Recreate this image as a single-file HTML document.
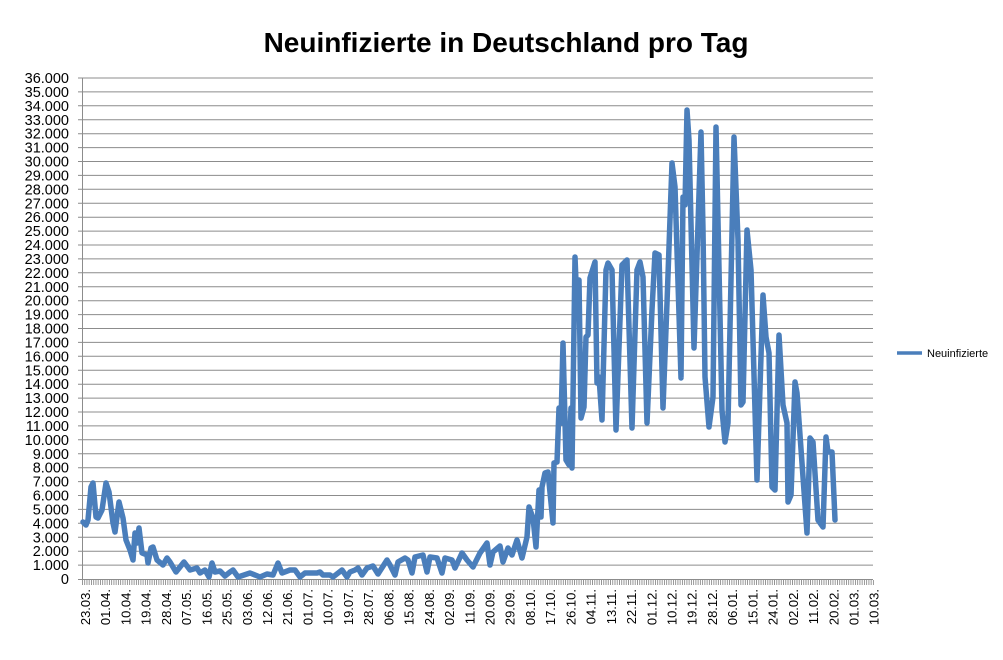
<!DOCTYPE html>
<html><head><meta charset="utf-8"><style>html,body{margin:0;padding:0;background:#fff}svg{display:block}</style></head><body>
<svg width="1003" height="660" xmlns="http://www.w3.org/2000/svg" font-family="Liberation Sans, sans-serif">
<defs><pattern id="tk" x="82" y="0" width="2.247" height="10" patternUnits="userSpaceOnUse"><rect x="0" y="0" width="0.9" height="10" fill="#8c8c8c"/></pattern></defs>
<rect width="1003" height="660" fill="#fff"/>
<text x="506" y="52" text-anchor="middle" font-size="28" font-weight="bold" fill="#000">Neuinfizierte in Deutschland pro Tag</text>
<path stroke="#8c8c8c" stroke-width="1" fill="none" d="M78 579.5H873M78 565.1H873M78 551.2H873M78 537.3H873M78 523.3H873M78 509.4H873M78 495.5H873M78 481.6H873M78 467.7H873M78 453.8H873M78 439.8H873M78 425.9H873M78 412H873M78 398.1H873M78 384.2H873M78 370.3H873M78 356.3H873M78 342.4H873M78 328.5H873M78 314.6H873M78 300.7H873M78 286.8H873M78 272.8H873M78 258.9H873M78 245H873M78 231.1H873M78 217.2H873M78 203.3H873M78 189.3H873M78 175.4H873M78 161.5H873M78 147.6H873M78 133.7H873M78 119.8H873M78 105.8H873M78 91.9H873M78 78H873M82.5 78V580"/>
<rect x="82" y="580" width="792" height="5" fill="url(#tk)"/>
<g font-size="14.5" fill="#000" text-anchor="end">
<text x="69" y="584">0</text><text x="69" y="570.1">1.000</text><text x="69" y="556.2">2.000</text><text x="69" y="542.3">3.000</text><text x="69" y="528.3">4.000</text><text x="69" y="514.4">5.000</text><text x="69" y="500.5">6.000</text><text x="69" y="486.6">7.000</text><text x="69" y="472.7">8.000</text><text x="69" y="458.8">9.000</text><text x="69" y="444.8">10.000</text><text x="69" y="430.9">11.000</text><text x="69" y="417">12.000</text><text x="69" y="403.1">13.000</text><text x="69" y="389.2">14.000</text><text x="69" y="375.3">15.000</text><text x="69" y="361.3">16.000</text><text x="69" y="347.4">17.000</text><text x="69" y="333.5">18.000</text><text x="69" y="319.6">19.000</text><text x="69" y="305.7">20.000</text><text x="69" y="291.8">21.000</text><text x="69" y="277.8">22.000</text><text x="69" y="263.9">23.000</text><text x="69" y="250">24.000</text><text x="69" y="236.1">25.000</text><text x="69" y="222.2">26.000</text><text x="69" y="208.3">27.000</text><text x="69" y="194.3">28.000</text><text x="69" y="180.4">29.000</text><text x="69" y="166.5">30.000</text><text x="69" y="152.6">31.000</text><text x="69" y="138.7">32.000</text><text x="69" y="124.8">33.000</text><text x="69" y="110.8">34.000</text><text x="69" y="96.9">35.000</text><text x="69" y="83">36.000</text>
</g>
<g font-size="13" fill="#000" text-anchor="end">
<text transform="translate(90,589) rotate(-90)">23.03.</text>
<text transform="translate(110.2,589) rotate(-90)">01.04.</text>
<text transform="translate(130.4,589) rotate(-90)">10.04.</text>
<text transform="translate(150.7,589) rotate(-90)">19.04.</text>
<text transform="translate(170.9,589) rotate(-90)">28.04.</text>
<text transform="translate(191.1,589) rotate(-90)">07.05.</text>
<text transform="translate(211.3,589) rotate(-90)">16.05.</text>
<text transform="translate(231.6,589) rotate(-90)">25.05.</text>
<text transform="translate(251.8,589) rotate(-90)">03.06.</text>
<text transform="translate(272,589) rotate(-90)">12.06.</text>
<text transform="translate(292.2,589) rotate(-90)">21.06.</text>
<text transform="translate(312.5,589) rotate(-90)">01.07.</text>
<text transform="translate(332.7,589) rotate(-90)">10.07.</text>
<text transform="translate(352.9,589) rotate(-90)">19.07.</text>
<text transform="translate(373.1,589) rotate(-90)">28.07.</text>
<text transform="translate(393.4,589) rotate(-90)">06.08.</text>
<text transform="translate(413.6,589) rotate(-90)">15.08.</text>
<text transform="translate(433.8,589) rotate(-90)">24.08.</text>
<text transform="translate(454,589) rotate(-90)">02.09.</text>
<text transform="translate(474.3,589) rotate(-90)">11.09.</text>
<text transform="translate(494.5,589) rotate(-90)">20.09.</text>
<text transform="translate(514.7,589) rotate(-90)">29.09.</text>
<text transform="translate(534.9,589) rotate(-90)">08.10.</text>
<text transform="translate(555.2,589) rotate(-90)">17.10.</text>
<text transform="translate(575.4,589) rotate(-90)">26.10.</text>
<text transform="translate(595.6,589) rotate(-90)">04.11.</text>
<text transform="translate(615.8,589) rotate(-90)">13.11.</text>
<text transform="translate(636,589) rotate(-90)">22.11.</text>
<text transform="translate(656.3,589) rotate(-90)">01.12.</text>
<text transform="translate(676.5,589) rotate(-90)">10.12.</text>
<text transform="translate(696.7,589) rotate(-90)">19.12.</text>
<text transform="translate(716.9,589) rotate(-90)">28.12.</text>
<text transform="translate(737.2,589) rotate(-90)">06.01.</text>
<text transform="translate(757.4,589) rotate(-90)">15.01.</text>
<text transform="translate(777.6,589) rotate(-90)">24.01.</text>
<text transform="translate(797.8,589) rotate(-90)">02.02.</text>
<text transform="translate(818.1,589) rotate(-90)">11.02.</text>
<text transform="translate(838.3,589) rotate(-90)">20.02.</text>
<text transform="translate(858.5,589) rotate(-90)">01.03.</text>
<text transform="translate(878.7,589) rotate(-90)">10.03.</text>
</g>
<polyline fill="none" stroke="#4a7ebb" stroke-width="5.5" stroke-linejoin="round" stroke-linecap="round" points="
83,522 86,525 88,520 91,487 93,483 96,517 98,518 102,510 106,483 109,492 113,523 115,532 119,502 123,518 126,540 130,550 133,560 135,533 137,543 139,528 142,553 147,555 148,563 151,548 153,547 157,560 163,565 167,558 170,562 176,572 184,562 190,570 197,568 200,573 205,570 209,577 212,563 215,572 220,571 225,576 230,572 233,570 238,577 250,573 260,577 267,574 273,575 278,563 282,573 290,570 295,570 300,577 305,573 317,573 320,572 323,575 330,575 333,577 342,570 347,577 350,572 355,570 358,568 362,575 367,568 373,566 378,574 387,560 390,565 395,575 398,562 405,558 408,560 412,573 415,557 423,555 427,572 430,557 437,558 442,573 445,558 452,560 455,568 462,553 467,560 473,567 480,553 487,543 490,565 493,552 500,546 503,562 508,548 512,555 517,540 522,558 527,537 529,507 533,518 536,547 539,490 541,517 542,487 545,473 548,472 553,523 554,463 557,462 559,408 561,423 563,343 566,460 569,465 571,408 572,468 575,257 577,307 579,280 581,418 584,407 586,337 588,335 590,278 595,262 597,383 599,377 602,420 606,270 608,263 612,270 616,430 622,265 627,260 632,428 637,270 640,262 643,277 647,423 652,310 655,253 659,255 663,408 667,303 672,163 675,187 681,378 683,197 685,205 687,110 689,140 694,348 701,132 703,230 705,377 709,427 713,397 716,127 722,410 725,442 728,423 734,137 738,240 741,405 743,402 747,230 751,270 757,480 763,295 766,337 769,353 772,487 775,490 779,335 783,405 787,423 788,502 791,495 795,382 797,393 807,533 810,438 813,442 818,520 823,527 826,437 828,452 832,452 835,520"/>
<line x1="897" y1="353" x2="922" y2="353" stroke="#4a7ebb" stroke-width="3.5"/>
<text x="927" y="357" font-size="11" fill="#000">Neuinfizierte</text>
</svg>
</body></html>
